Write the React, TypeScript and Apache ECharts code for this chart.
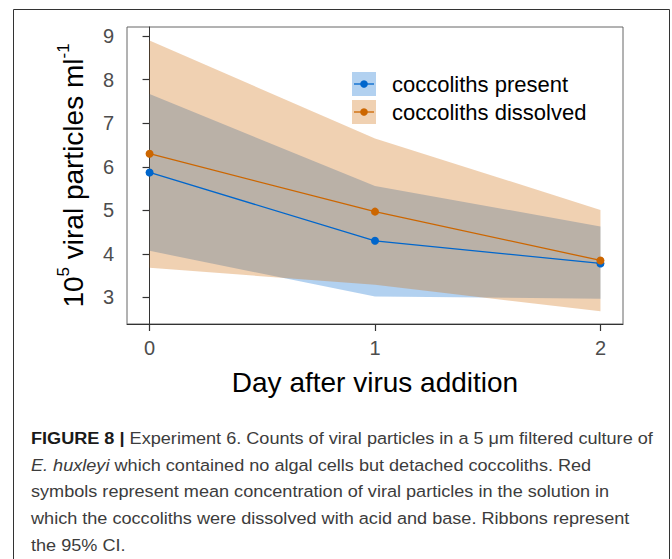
import React, { useEffect, useRef } from "react";
import * as echarts from "echarts";

const days = [0, 1, 2];
const xTicks = [0, 1, 2];
const yTicks = [3, 4, 5, 6, 7, 8, 9];
const seriesNames = ["coccoliths present", "coccoliths dissolved"];
const presentMean = [5.87, 4.3, 3.78];
const presentLower = [4.07, 3.02, 2.97];
const presentUpper = [7.67, 5.56, 4.63];
const dissolvedMean = [6.3, 4.97, 3.85];
const dissolvedLower = [3.68, 3.29, 2.68];
const dissolvedUpper = [8.9, 6.65, 5.01];
const captionLines = [
  "{b|FIGURE 8 |} Experiment 6. Counts of viral particles in a 5 \u03bcm filtered culture of",
  "{i|E. huxleyi} which contained no algal cells but detached coccoliths. Red",
  "symbols represent mean concentration of viral particles in the solution in",
  "which the coccoliths were dissolved with acid and base. Ribbons represent",
  "the 95% CI.",
];

const BLUE = "#0066CC";
const ORANGE = "#CC6600";
const FONT = "Liberation Sans";

export default function App() {
  const ref = useRef<HTMLDivElement>(null);
  useEffect(() => {
    if (!ref.current) return;
    const chart = echarts.init(ref.current, undefined, { renderer: "svg" });
    const pts = (ys: number[]) => days.map((d, i) => [d, ys[i]]);
    const ribbon = (name: string, lower: number[], upper: number[], color: string) => ({
      name,
      type: "custom",
      silent: true,
      z: 1,
      data: days.map((d, i) => [d, lower[i], upper[i]]),
      encode: { x: 0, y: [1, 2] },
      renderItem: (params: any, api: any) => {
        if (params.dataIndex !== 0) return null;
        const top = days.map((d, i) => api.coord([d, upper[i]]));
        const bottom = days.map((d, i) => api.coord([d, lower[i]])).reverse();
        return {
          type: "polygon",
          shape: { points: top.concat(bottom) },
          style: { fill: color, opacity: 0.3 },
        };
      },
    });
    const captionBaseY = 446.7;
    const captionGap = 26.7;
    const legendY = [84, 112];
    const legendColors = [BLUE, ORANGE];
    const graphic: any[] = [
      {
        type: "rect",
        shape: { x: 13.5, y: 9.5, width: 656, height: 600 },
        style: { fill: "none", stroke: "#333", lineWidth: 1 },
        silent: true,
      },
    ];
    legendY.forEach((cy, i) => {
      graphic.push(
        {
          type: "rect",
          shape: { x: 352, y: cy - 12, width: 24, height: 24 },
          style: { fill: legendColors[i], opacity: 0.3 },
        },
        {
          type: "line",
          shape: { x1: 354, y1: cy, x2: 374, y2: cy },
          style: { stroke: legendColors[i], lineWidth: 1.3 },
        },
        {
          type: "circle",
          shape: { cx: 364, cy, r: 3.8 },
          style: { fill: legendColors[i] },
        },
        {
          type: "text",
          x: 392,
          y: cy,
          style: {
            text: seriesNames[i],
            fontFamily: FONT,
            fontSize: 22,
            fill: "#000",
            verticalAlign: "middle",
            align: "left",
          },
        }
      );
    });
    captionLines.forEach((line, i) => {
      graphic.push({
        type: "text",
        x: 31,
        y: captionBaseY + i * captionGap,
        scaleX: 1.065,
        style: {
          text: line,
          fontFamily: FONT,
          fontSize: 17,
          fill: "#3c3c3c",
          verticalAlign: "bottom",
          align: "left",
          rich: {
            b: { fontFamily: FONT, fontSize: 17, fontWeight: "bold", fill: "#1a1a1a" },
            i: { fontFamily: FONT, fontSize: 17, fontStyle: "italic", fill: "#3c3c3c" },
          },
        },
      });
    });

    chart.setOption({
      animation: false,
      backgroundColor: "#fff",
      grid: {
        left: 127,
        right: 49,
        top: 27,
        bottom: 235,
        show: true,
        borderColor: "#666",
        borderWidth: 1,
      },
      xAxis: {
        type: "value",
        min: -0.1,
        max: 2.1,
        name: "Day after virus addition",
        nameLocation: "middle",
        nameGap: 44,
        nameTextStyle: { fontFamily: FONT, fontSize: 28, color: "#000" },
        axisLine: { show: true, lineStyle: { color: "#333", width: 1 } },
        axisTick: { show: true, length: 7, lineStyle: { color: "#333", width: 1.2 }, customValues: xTicks },
        axisLabel: { fontFamily: FONT, fontSize: 20, color: "#4D4D4D", margin: 14, customValues: xTicks },
        splitLine: { show: false },
      },
      yAxis: {
        type: "value",
        min: 2.39,
        max: 9.21,
        name: "{n|10}{s|5}{n| viral particles ml}{s|-1}",
        nameLocation: "middle",
        nameRotate: 90,
        nameGap: 40,
        nameTextStyle: {
          fontFamily: FONT,
          fontSize: 28,
          color: "#000",
          rich: {
            n: { fontFamily: FONT, fontSize: 28, color: "#000", verticalAlign: "bottom", lineHeight: 32 },
            s: { fontFamily: FONT, fontSize: 17, color: "#000", verticalAlign: "top", lineHeight: 32 },
          },
        },
        axisLine: { show: true, lineStyle: { color: "#333", width: 1 } },
        axisTick: { show: true, length: 7, lineStyle: { color: "#333", width: 1.2 }, customValues: yTicks },
        axisLabel: { fontFamily: FONT, fontSize: 20, color: "#4D4D4D", margin: 13, customValues: yTicks },
        splitLine: { show: false },
      },
      series: [
        ribbon("present 95% CI", presentLower, presentUpper, BLUE),
        ribbon("dissolved 95% CI", dissolvedLower, dissolvedUpper, ORANGE),
        {
          name: seriesNames[0],
          type: "line",
          data: pts(presentMean),
          symbol: "circle",
          symbolSize: 8,
          itemStyle: { color: BLUE },
          lineStyle: { color: BLUE, width: 1.3 },
          z: 3,
        },
        {
          name: seriesNames[1],
          type: "line",
          data: pts(dissolvedMean),
          symbol: "circle",
          symbolSize: 8,
          itemStyle: { color: ORANGE },
          lineStyle: { color: ORANGE, width: 1.3 },
          z: 3,
        },
      ],
      graphic,
    });
    return () => chart.dispose();
  }, []);
  return (
    <div
      ref={ref}
      style={{ position: "absolute", left: 0, top: 0, width: 672, height: 559 }}
    />
  );
}
